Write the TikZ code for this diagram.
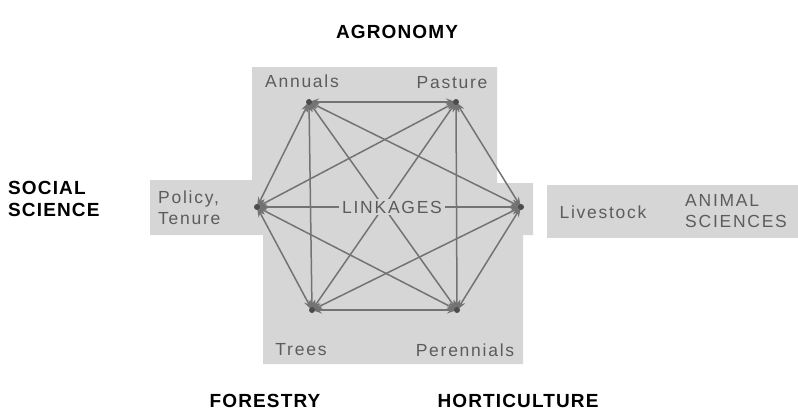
\documentclass[tikz,border=0pt]{standalone}
\usepackage{fontspec}
\setmainfont{Liberation Sans}
\newfontfamily\headfont[LetterSpace=6]{Liberation Sans}
\newfontfamily\labfont[LetterSpace=10]{Liberation Sans}
\usetikzlibrary{arrows.meta}
\definecolor{panelgray}{gray}{0.84}
\definecolor{inkgray}{gray}{0.36}
\definecolor{linkgray}{gray}{0.45}
\tikzset{
  heading/.style={font=\headfont\bfseries\fontsize{19}{22}\selectfont, text=black, inner sep=0pt},
  field/.style={font=\labfont\fontsize{17.5}{21}\selectfont, text=inkgray, inner sep=0pt},
  link/.style={draw=linkgray, line width=1.5pt, {Stealth[length=10pt,width=7pt]}-{Stealth[length=10pt,width=7pt]}},
  hub/.style={circle, fill=black!70, inner sep=0pt, minimum size=6pt},
}
\begin{document}
\begin{tikzpicture}[x=1pt,y=-1pt]
\useasboundingbox (0,0) rectangle (798,416);
% shaded panels
\fill[panelgray] (252,67) -- (497,67) -- (497,183) -- (533,183) -- (533,235) -- (523,235)
  -- (523,364) -- (263,364) -- (263,235) -- (150,235) -- (150,180) -- (252,180) -- cycle;
\fill[panelgray] (547,185) rectangle (798,238);
% vertices
\coordinate (an) at (309,102);
\coordinate (pa) at (456,102);
\coordinate (po) at (257,207);
\coordinate (li) at (521,207);
\coordinate (tr) at (312,310);
\coordinate (pe) at (457,310);
% linkages
\foreach \a/\b in {an/pa, pa/li, li/pe, pe/tr, tr/po, po/an,
                   an/tr, pa/pe, po/li, an/li, an/pe, pa/po,
                   pa/tr, po/pe, tr/li}
  \draw[link] (\a) -- (\b);
\foreach \v in {an,pa,po,li,tr,pe}
  \node[hub] (h\v) at (\v) {};
\node[field, fill=panelgray, inner xsep=3pt, inner ysep=2pt] (link) at (392,207) {LINKAGES};
% component labels
\node[field] (lan) at (302,81) {Annuals};
\node[field] (lpa) at (452,83) {Pasture};
\node[field, align=left, anchor=west] (lpo) at (158,208) {Policy,\\Tenure};
\node[field] (lli) at (603,212) {Livestock};
\node[field] (ltr) at (301,350) {Trees};
\node[field] (lpe) at (465,350) {Perennials};
\node[field, align=left, anchor=west] (lan2) at (685,211) {ANIMAL\\SCIENCES};
% disciplines
\node[heading] (agr) at (397,32) {AGRONOMY};
\node[heading, align=left, anchor=west] (soc) at (8,199) {SOCIAL\\SCIENCE};
\node[heading] (for) at (265,401) {FORESTRY};
\node[heading] (hor) at (518,401) {HORTICULTURE};
\end{tikzpicture}
\end{document}
